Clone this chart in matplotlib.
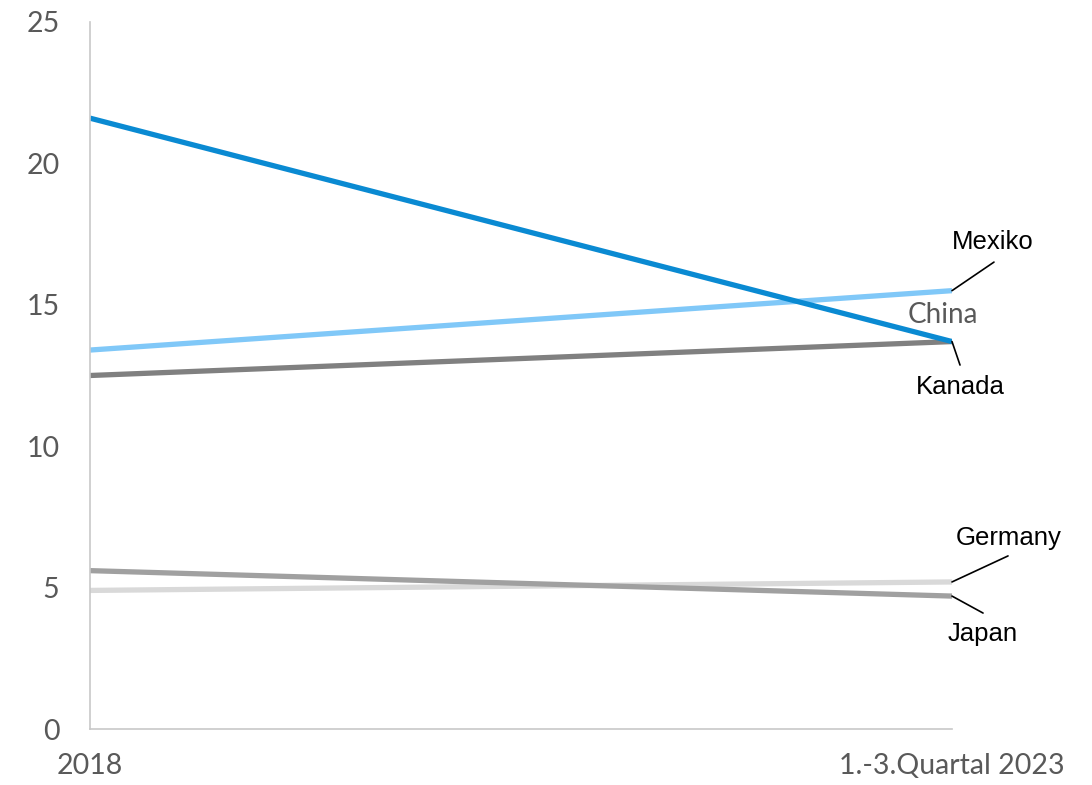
import numpy as np
import matplotlib
matplotlib.use("Agg")
import matplotlib.pyplot as plt

periods = ["2018", "1.-3.Quartal 2023"]
china = [21.6, 13.7]
mexiko = [13.4, 15.5]
kanada = [12.5, 13.7]
japan = [5.6, 4.7]
germany = [4.9, 5.2]

series = [
    ("Germany", germany, "#d9d9d9"),
    ("Japan", japan, "#a0a0a0"),
    ("Kanada", kanada, "#808080"),
    ("Mexiko", mexiko, "#80c8f8"),
    ("China", china, "#0a8ad2"),
]

fig = plt.figure(figsize=(10.92, 7.85), dpi=100)
ax = fig.add_axes([90 / 1092, 1 - 729 / 785, 862 / 1092, 707 / 785])

x = np.arange(len(periods))
for name, vals, col in series:
    ax.plot(x, vals, color=col, lw=3.8, solid_capstyle="butt")

ax.set_xlim(0, 1)
ax.set_ylim(0, 25)
ax.set_yticks([0, 5, 10, 15, 20, 25])
ax.set_xticks(x)
ax.set_xticklabels(periods)
ax.tick_params(length=0, labelsize=20.5, labelcolor="#595959")
ax.tick_params(axis="x", pad=17)
ax.tick_params(axis="y", pad=22)
for lab in ax.get_yticklabels() + ax.get_xticklabels():
    lab.set_family("Lato")
for s in ["top", "right"]:
    ax.spines[s].set_visible(False)
for s in ["left", "bottom"]:
    ax.spines[s].set_color("#c8c8c8")
    ax.spines[s].set_linewidth(1.2)

# end labels with leader lines
labels = {
    "Mexiko": ((1.0487, 16.51), (1.0476, 17.22)),
    "Kanada": ((1.0093, 12.87), (1.0093, 12.09)),
    "Germany": ((1.065, 6.12), (1.0661, 6.75)),
    "Japan": ((1.036, 4.10), (1.036, 3.36)),
}
for name, vals, col in series:
    if name in labels:
        lead, txt = labels[name]
        ax.annotate("", xy=(1, vals[1]), xytext=lead,
                    arrowprops=dict(arrowstyle="-", color="black", lw=1.2,
                                    shrinkA=0, shrinkB=0), annotation_clip=False)
        ax.text(txt[0], txt[1], name, ha="center", va="center", fontsize=18.5,
                family="Liberation Sans", color="black", clip_on=False)
ax.text(0.9896, 14.64, "China", ha="center", va="center", fontsize=20,
        family="Lato", color="#595959", clip_on=False)

fig.savefig("out.png", dpi=100)
